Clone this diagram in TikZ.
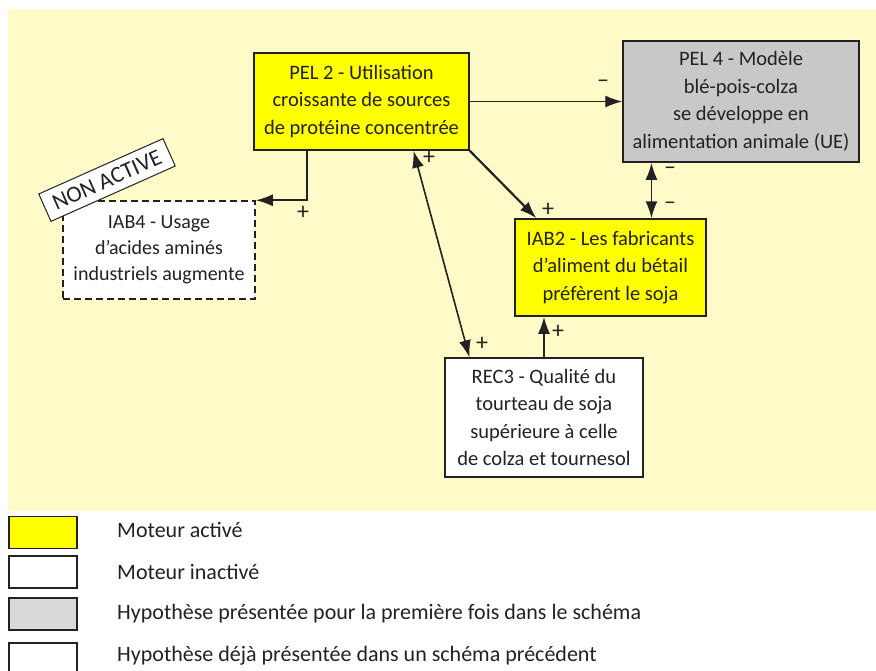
\documentclass[tikz,border=0pt]{standalone}
\usepackage{fontspec}
\setmainfont{Carlito}
\usetikzlibrary{arrows.meta,calc}
\definecolor{bgc}{RGB}{255,251,200}
\definecolor{yel}{RGB}{255,255,0}
\definecolor{grayb}{RGB}{200,200,200}
\definecolor{grayl}{RGB}{217,217,217}
\definecolor{ink}{RGB}{34,34,34}
\begin{document}
\begin{tikzpicture}[x=1pt,y=-1pt,
  box/.style={draw=ink,line width=1.5pt,align=center,inner sep=2pt,
    font=\fontsize{20.5}{27.5}\selectfont,text=ink},
  arr/.style={draw=ink,line width=1.8pt,-{Latex[length=17pt,width=12pt]}},
  darr/.style={draw=ink,line width=1.8pt,{Latex[length=17pt,width=12pt]}-{Latex[length=17pt,width=12pt]}},
  sign/.style={font=\fontsize{24}{24}\selectfont,text=ink,inner sep=0pt},
  legbox/.style={draw=ink,line width=1.3pt,minimum width=68pt,minimum height=32pt,inner sep=0pt},
  legtext/.style={anchor=west,font=\fontsize{22}{22}\selectfont,text=ink,inner sep=0pt}]
\useasboundingbox (0,0) rectangle (876,670);
\fill[bgc] (8,9) rectangle (876,511);

% boxes
\node[box,fill=yel,minimum width=215pt,minimum height=97pt] (PEL2) at (361.5,101.5)
  {PEL 2 - Utilisation\\croissante de sources\\de protéine concentrée};
\node[box,fill=grayb,minimum width=236pt,minimum height=121pt] (PEL4) at (741,101.5)
  {PEL 4 - Modèle\\blé-pois-colza\\se développe en\\alimentation animale (UE)};
\node[box,fill=yel,minimum width=191pt,minimum height=97pt] (IAB2) at (610.5,267.5)
  {IAB2 - Les fabricants\\d’aliment du bétail\\préfèrent le soja};
\node[box,fill=white,minimum width=198pt,minimum height=119pt] (REC3) at (544,417.5)
  {REC3 - Qualité du\\tourteau de soja\\supérieure à celle\\de colza et tournesol};
\node[box,fill=white,dash pattern=on 7pt off 4pt,minimum width=192pt,minimum height=98pt,
  font=\fontsize{20}{26}\selectfont] (IAB4) at (159,250)
  {IAB4 - Usage\\d’acides aminés\\industriels augmente};

% connectors
\draw[arr,line width=1.3pt] (PEL2.east) -- (PEL2.east -| PEL4.west);
\draw[arr] ($(PEL2.south west)!0.25!(PEL2.south east)$) |- (IAB4.north east);
\draw[arr,line width=2.2pt] (PEL2.south east) -- ($(IAB2.north west)!0.115!(IAB2.north east)$);
\draw[darr,line width=1.6pt] ($(PEL2.south west)!0.74!(PEL2.south east)$) -- ($(REC3.north west)!0.126!(REC3.north east)$);
\draw[darr] ($(PEL4.south west)!0.123!(PEL4.south east)$) coordinate (p5) -- (p5 |- IAB2.north);
\draw[arr] (REC3.north) -- (REC3.north |- IAB2.south);

% signs
\node[sign] (s1) at (603,84) {–};
\node[sign] (s2) at (303,213) {+};
\node[sign] (s3) at (548,210) {+};
\node[sign] (s4) at (429,158) {+};
\node[sign] (s5) at (482,344) {+};
\node[sign] (s6) at (670,171) {–};
\node[sign] (s7) at (670,206) {–};
\node[sign] (s8) at (558,332) {+};

% non active tag
\node[draw=ink,fill=white,line width=1pt,rotate=24,minimum width=136pt,minimum height=30pt,
  inner sep=1pt,font=\fontsize{23}{23}\selectfont,text=ink] (NA) at (107,180) {NON ACTIVE};

% legend
\node[legbox,fill=yel] (L1) at (43,532.5) {};
\node[legbox,fill=white] (L2) at (43,572) {};
\node[legbox,fill=grayl] (L3) at (43,614) {};
\node[legbox,fill=white] (L4) at (43,659) {};
\node[legtext] (T1) at (117,530) {Moteur activé};
\node[legtext] (T2) at (117,572) {Moteur inactivé};
\node[legtext] (T3) at (117,614) {Hypothèse présentée pour la première fois dans le schéma};
\node[legtext] (T4) at (117,656) {Hypothèse déjà présentée dans un schéma précédent};
\end{tikzpicture}
\end{document}
